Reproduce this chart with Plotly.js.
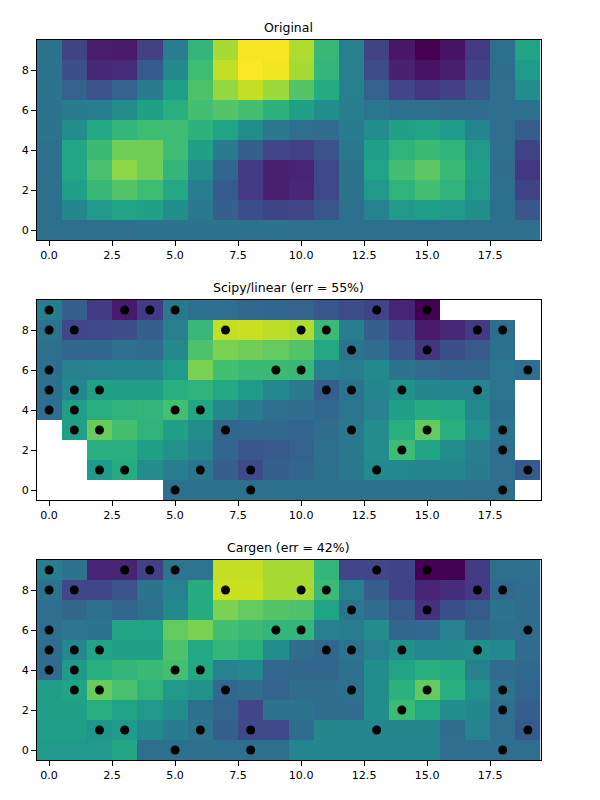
<!DOCTYPE html>
<html><head><meta charset="utf-8">
<script src="https://cdn.plot.ly/plotly-3.0.1.min.js"></script>
<style>html,body{margin:0;padding:0;background:#fff}</style></head>
<body><div id="chart" style="width:600px;height:800px"></div>
<script>
const xCategories = [0,1,2,3,4,5,6,7,8,9,10,11,12,13,14,15,16,17,18,19];
const yCategories = [9,8,7,6,5,4,3,2,1,0];
const n = null;
const original = [
[.38,.20,.08,.07,.19,.42,.66,.87,.99,.99,.88,.67,.43,.20,.06,.00,.05,.17,.37,.58],
[.38,.24,.11,.12,.28,.47,.69,.91,1.0,.98,.87,.66,.43,.23,.09,.05,.08,.19,.35,.55],
[.38,.31,.26,.31,.41,.56,.72,.84,.91,.85,.73,.62,.43,.31,.21,.16,.19,.27,.36,.48],
[.38,.41,.42,.49,.57,.63,.70,.73,.70,.64,.57,.49,.42,.39,.37,.36,.35,.35,.36,.37],
[.38,.49,.60,.66,.69,.69,.64,.58,.49,.40,.36,.35,.41,.48,.57,.58,.55,.45,.36,.29],
[.37,.59,.68,.78,.78,.69,.57,.41,.30,.21,.19,.26,.40,.56,.65,.68,.65,.53,.36,.20],
[.37,.59,.71,.83,.78,.66,.48,.32,.17,.09,.10,.22,.38,.58,.70,.75,.68,.56,.35,.16],
[.37,.56,.67,.73,.69,.60,.42,.28,.17,.09,.11,.22,.38,.53,.65,.70,.65,.53,.36,.20],
[.37,.46,.53,.58,.57,.49,.40,.30,.24,.20,.21,.27,.37,.44,.53,.56,.54,.49,.37,.27],
[.37,.37,.37,.37,.38,.38,.38,.38,.38,.38,.37,.37,.37,.37,.37,.37,.37,.37,.37,.37]];
const linear = [
[.42,.30,.17,.07,.17,.40,.37,.36,.34,.33,.31,.27,.23,.20,.10,.00,n,n,n,n],
[.38,.21,.22,.24,.30,.43,.67,.91,.92,.90,.88,.68,.42,.30,.21,.07,.11,.17,.36,n],
[.37,.33,.33,.36,.35,.47,.72,.80,.78,.76,.73,.60,.38,.35,.27,.15,.24,.28,.37,n],
[.37,.43,.44,.45,.45,.53,.80,.70,.68,.68,.67,.43,.42,.47,.38,.35,.33,.33,.39,.36],
[.36,.46,.57,.57,.57,.63,.65,.60,.55,.47,.41,.30,.38,.45,.50,.46,.45,.44,.39,n],
[.36,.56,.63,.65,.66,.70,.59,.47,.41,.36,.35,.34,.39,.44,.57,.62,.60,.47,.37,n],
[n,.56,.77,.70,.65,.57,.49,.33,.34,.34,.32,.35,.40,.48,.63,.76,.63,.50,.38,n],
[n,n,.63,.63,.57,.51,.45,.33,.27,.28,.31,.36,.40,.48,.69,.58,.48,.42,.36,n],
[n,n,.54,.62,.48,.42,.39,.30,.23,.30,.33,.37,.40,.47,.47,.45,.46,.41,.36,.28],
[n,n,n,n,n,.37,.37,.37,.37,.37,.37,.37,.37,.37,.37,.37,.37,.36,.36,n]];
const cargen = [
[.42,.38,.10,.10,.19,.39,.39,.91,.91,.87,.87,.66,.21,.21,.20,.00,.00,.17,.37,.37],
[.38,.21,.21,.26,.38,.44,.62,.92,.92,.87,.87,.68,.43,.29,.20,.10,.13,.17,.34,.35],
[.36,.33,.36,.32,.37,.47,.62,.80,.76,.73,.72,.58,.39,.35,.28,.14,.24,.28,.38,.35],
[.36,.39,.38,.58,.58,.76,.80,.70,.68,.66,.66,.43,.42,.48,.33,.34,.44,.33,.37,.35],
[.35,.47,.58,.57,.57,.72,.60,.66,.63,.49,.35,.33,.38,.44,.50,.47,.47,.49,.47,.35],
[.35,.55,.63,.66,.68,.70,.60,.44,.47,.34,.33,.33,.37,.49,.58,.63,.61,.43,.35,.34],
[.56,.58,.77,.71,.65,.53,.50,.34,.35,.31,.35,.35,.37,.49,.64,.76,.63,.50,.38,.32],
[.57,.57,.63,.58,.53,.49,.37,.32,.21,.38,.38,.35,.35,.49,.68,.60,.49,.46,.36,.30],
[.56,.56,.52,.54,.47,.41,.38,.30,.22,.22,.35,.46,.46,.46,.46,.46,.35,.44,.36,.28],
[.53,.53,.53,.59,.37,.37,.37,.36,.37,.37,.45,.45,.45,.45,.45,.45,.36,.36,.36,.36]];
const sampleX = [0,3,4,5,13,15, 0,1,7,10,11,17,18, 12,15, 0,9,10,19, 0,1,2,11,12,14,17, 0,1,5,6, 1,2,7,12,15,18, 14,18, 2,3,6,8,13,19, 5,8,18];
const sampleY = [9,9,9,9,9,9, 8,8,8,8,8,8,8, 7,7, 6,6,6,6, 5,5,5,5,5,5,5, 4,4,4,4, 3,3,3,3,3,3, 2,2, 1,1,1,1,1,1, 0,0,0];
const titles = ["Original","Scipy/linear (err = 55%)","Cargen (err = 42%)"];
const xTicks = [0,2.5,5,7.5,10,12.5,15,17.5];
const xTickText = ["0.0","2.5","5.0","7.5","10.0","12.5","15.0","17.5"];
const yTicks = [0,2,4,6,8];

const W = 600, H = 800;
const panels = [[40,240],[300,500],[560,760]];
const left = 36.5, right = 540.5;
const data = [], annotations = [];
const layout = {width:W, height:H, margin:{l:0,r:0,t:0,b:0,pad:0}, paper_bgcolor:"#fff", plot_bgcolor:"#fff",
  showlegend:false, font:{family:"DejaVu Sans", size:11.1, color:"#000"}, annotations};
[original, linear, cargen].forEach((z,i)=>{
  const s = i===0 ? "" : String(i+1);
  data.push({type:"heatmap", x:xCategories, y:yCategories, z, zmin:0, zmax:1, colorscale:"Viridis",
    showscale:false, xaxis:"x"+s, yaxis:"y"+s, hoverongaps:false});
  if(i>0) data.push({type:"scatter", mode:"markers", x:sampleX, y:sampleY, xaxis:"x"+s, yaxis:"y"+s,
    marker:{color:"#000", size:9, line:{width:0}}, cliponaxis:false});
  const [t,b] = panels[i];
  const common = {showgrid:false, zeroline:false, showline:true, mirror:true, linecolor:"#000", linewidth:1,
    ticks:"outside", ticklen:4.5, tickwidth:1, tickcolor:"#000", tickfont:{family:"DejaVu Sans", size:11.1, color:"#000"}, layer:"above traces"};
  layout["xaxis"+s] = {...common, domain:[left/W,right/W], range:[-0.5,19.5], tickmode:"array", tickvals:xTicks, ticktext:xTickText, anchor:"y"+s};
  layout["yaxis"+s] = {...common, domain:[1-b/H,1-t/H], range:[-0.5,9.5], tickmode:"array", tickvals:yTicks, ticktext:yTicks.map(String), anchor:"x"+s};
  annotations.push({xref:"paper", yref:"paper", x:(left+right)/2/W, y:1-(t-4)/H, xanchor:"center", yanchor:"bottom", showarrow:false,
    text:titles[i], borderpad:0, font:{family:"DejaVu Sans", size:12.5, color:"#000"}});
});
Plotly.newPlot("chart", data, layout, {displayModeBar:false, staticPlot:true});
</script></body></html>
